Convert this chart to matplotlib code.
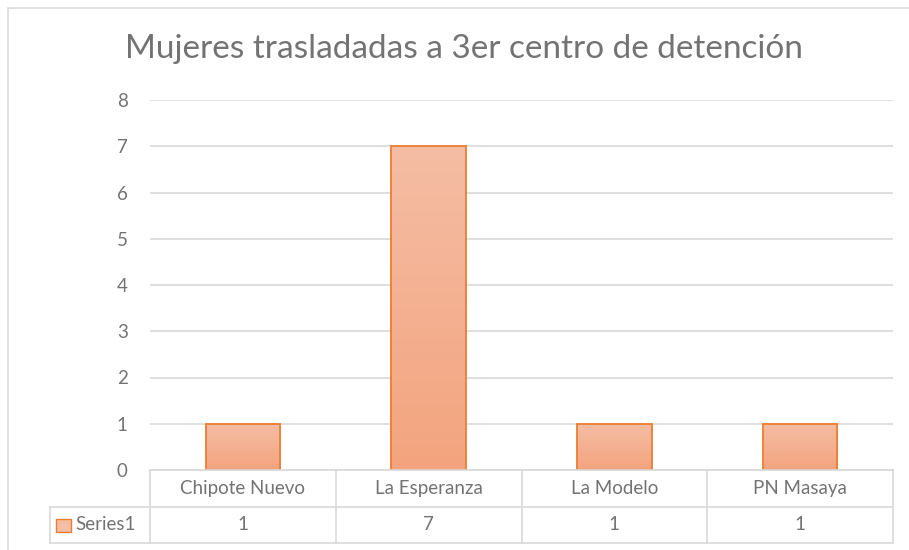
import numpy as np
import matplotlib
matplotlib.use("Agg")
import matplotlib.pyplot as plt
from matplotlib.lines import Line2D
from matplotlib.patches import Rectangle
from matplotlib.colors import LinearSegmentedColormap
from matplotlib.transforms import blended_transform_factory

# --- data ---
TITLE = "Mujeres trasladadas a 3er centro de detención"
CATEGORIES = ["Chipote Nuevo", "La Esperanza", "La Modelo", "PN Masaya"]
VALUES = [1, 7, 1, 1]
SERIES = "Series1"
YTICKS = [0, 1, 2, 3, 4, 5, 6, 7, 8]

# --- style ---
FONT = ["Lato", "DejaVu Sans"]
TXT = "#737373"
GRID = "#d9d9d9"
EDGE = "#ED7D31"
TOP_C, BOT_C = "#F5BDA4", "#F3A47E"
W, H = 909, 550

plt.rcParams["font.family"] = FONT
fig = plt.figure(figsize=(W / 100, H / 100), dpi=100)
fig.patch.set_facecolor("white")

# outer chart border
fig.add_artist(Rectangle((8 / W, -0.05), (W + 20) / W, 1.05 - 8 / H, transform=fig.transFigure,
                         fill=False, edgecolor=GRID, lw=1.2))

ax = fig.add_axes([150 / W, 80 / H, (893 - 150) / W, 370 / H])
for s in ax.spines.values():
    s.set_visible(False)
ax.set_yticks(YTICKS)
ax.set_yticklabels([str(t) for t in YTICKS], color=TXT, fontsize=13.5)
ax.tick_params(axis="y", length=0, pad=16)
ax.set_xticks([])
ax.yaxis.grid(True, color=GRID, lw=1.2)
ax.set_axisbelow(True)

# bars with vertical gradient
cmap = LinearSegmentedColormap.from_list("bar", [BOT_C, TOP_C])
grad = np.linspace(0, 1, 256).reshape(-1, 1)
bars = ax.bar(range(len(CATEGORIES)), VALUES, width=0.4, color="none", edgecolor=EDGE, lw=1.3, zorder=3)
for b in bars:
    x0, y0 = b.get_x(), b.get_y()
    im = ax.imshow(grad, extent=[x0, x0 + b.get_width(), y0, y0 + b.get_height()], origin="lower",
                   cmap=cmap, aspect="auto", zorder=2)
    im.set_clip_path(b)
ax.set_xlim(-0.5, len(CATEGORIES) - 0.5)
ax.set_ylim(0, 8)

# data table below the plot (x in data units, y in figure fraction)
tr = blended_transform_factory(ax.transData, fig.transFigure)
cat_w = (893 - 150) / len(CATEGORIES)
x_left = -0.5 - (150 - 50) / cat_w
x_right = len(CATEGORIES) - 0.5
y0, y1, y2 = 1 - 470 / H, 1 - 507 / H, 1 - 543 / H
lines = [
    ([-0.5, x_right], [y0, y0]),
    ([x_left, x_right], [y1, y1]),
    ([x_left, x_right], [y2, y2]),
    ([x_left, x_left], [y1, y2]),
]
for i in range(len(CATEGORIES) + 1):
    lines.append(([i - 0.5, i - 0.5], [y0, y2]))
for xs, ys in lines:
    fig.add_artist(Line2D(xs, ys, transform=tr, color=GRID, lw=1.2))

for i, (c, v) in enumerate(zip(CATEGORIES, VALUES)):
    ax.text(i, (y0 + y1) / 2, c, transform=tr, ha="center", va="center", color=TXT, fontsize=13.5)
    ax.text(i, (y1 + y2) / 2, str(v), transform=tr, ha="center", va="center", color=TXT, fontsize=13.5)

# legend key in the table
ym = (y1 + y2) / 2
kx = x_left + 6 / cat_w
fig.add_artist(Rectangle((kx, ym - 6.5 / H), 15 / cat_w, 13 / H, transform=tr,
                         facecolor=TOP_C, edgecolor=EDGE, lw=1))
ax.text(kx + 19 / cat_w, ym, SERIES, transform=tr, ha="left", va="center", color=TXT, fontsize=13.5)

fig.text(464 / W, 1 - 49 / H, TITLE, ha="center", va="center", color=TXT, fontsize=24)

fig.savefig("out.png", dpi=100)
